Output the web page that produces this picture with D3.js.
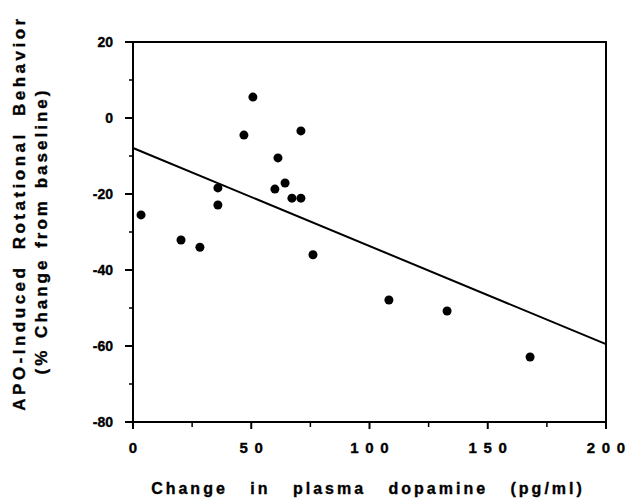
<!DOCTYPE html>
<html>
<head>
<meta charset="utf-8">
<script src="https://cdn.jsdelivr.net/npm/d3@7"></script>
<style>
  body { margin: 0; background: #fff; }
  svg { display: block; font-family: "Liberation Sans", Arial, sans-serif; font-weight: bold; }
  text { fill: #000; stroke: #000; stroke-width: 0.35px; }
</style>
</head>
<body>
<svg id="chart" width="629" height="504"></svg>
<script>
// change in plasma dopamine (pg/ml)
const dopamine = [3.4, 20.3, 28.3, 35.9, 35.9, 46.9, 50.7, 61.3, 60, 71, 64.3, 67.2, 71, 76.1, 108.2, 132.8, 167.9]
// % change in APO-induced rotational behavior
const rotation = [-25.5, -32.1, -34, -18.4, -22.9, -4.5, 5.5, -10.5, -18.7, -3.4, -17.1, -21.1, -21.1, -36, -47.9, -50.8, -62.9]
// regression line end points
const fitX = [0, 200]
const fitY = [-7.9, -59.5]

const xTicks = [0, 50, 100, 150, 200]
const yTicks = [20, 0, -20, -40, -60, -80]

const svg = d3.select("#chart")
const plotLeft = 133, plotRight = 606, plotTop = 42, plotBottom = 422

const x = d3.scaleLinear().domain([0, 200]).range([plotLeft, plotRight])
const y = d3.scaleLinear().domain([-80, 20]).range([plotBottom, plotTop])

// frame
svg.append("rect")
  .attr("x", plotLeft).attr("y", plotTop)
  .attr("width", plotRight - plotLeft).attr("height", plotBottom - plotTop)
  .attr("fill", "none").attr("stroke", "#000").attr("stroke-width", 2)

// y axis: major ticks + minor ticks
const yAxis = svg.append("g").attr("transform", `translate(${plotLeft},0)`)
yAxis.selectAll(".major")
  .data(yTicks)
  .join("line")
  .attr("class", "major")
  .attr("x1", -8).attr("x2", 0)
  .attr("y1", (d) => y(d)).attr("y2", (d) => y(d))
  .attr("stroke", "#000").attr("stroke-width", 2)
yAxis.selectAll(".minor")
  .data(d3.range(-70, 20, 20))
  .join("line")
  .attr("class", "minor")
  .attr("x1", -4).attr("x2", 0)
  .attr("y1", (d) => y(d)).attr("y2", (d) => y(d))
  .attr("stroke", "#000").attr("stroke-width", 1.5)
yAxis.selectAll("text")
  .data(yTicks)
  .join("text")
  .attr("x", -20)
  .attr("y", (d) => y(d) + 5)
  .attr("text-anchor", "end")
  .attr("font-size", 14)
  .text((d) => d)

// x axis
const xAxis = svg.append("g").attr("transform", `translate(0,${plotBottom})`)
xAxis.selectAll(".major")
  .data(xTicks)
  .join("line")
  .attr("class", "major")
  .attr("x1", (d) => x(d)).attr("x2", (d) => x(d))
  .attr("y1", 0).attr("y2", 7)
  .attr("stroke", "#000").attr("stroke-width", 2)
xAxis.selectAll(".minor")
  .data(d3.range(25, 200, 50))
  .join("line")
  .attr("class", "minor")
  .attr("x1", (d) => x(d)).attr("x2", (d) => x(d))
  .attr("y1", 0).attr("y2", 5)
  .attr("stroke", "#000").attr("stroke-width", 1.5)
// spaced-out digits, one x position per character
const digitPitch = 15
xAxis.selectAll("text")
  .data(xTicks)
  .join("text")
  .attr("x", (d) => {
    const n = String(d).length
    return d3.range(n).map((i) => x(d) - ((n - 1) * digitPitch) / 2 + i * digitPitch).join(" ")
  })
  .attr("y", 31)
  .attr("text-anchor", "middle")
  .attr("font-size", 15)
  .text((d) => d)

// axis titles
svg.append("text")
  .attr("x", 368).attr("y", 494)
  .attr("text-anchor", "middle")
  .attr("font-size", 16)
  .attr("letter-spacing", 3)
  .attr("word-spacing", 15)
  .text("Change in plasma dopamine (pg/ml)")

svg.append("text")
  .attr("transform", "translate(25,213) rotate(-90)")
  .attr("text-anchor", "middle")
  .attr("font-size", 17)
  .attr("letter-spacing", 3.5)
  .attr("word-spacing", 7)
  .text("APO-Induced Rotational Behavior")

svg.append("text")
  .attr("transform", "translate(47,231) rotate(-90)")
  .attr("text-anchor", "middle")
  .attr("font-size", 17)
  .attr("letter-spacing", 3)
  .attr("word-spacing", 2)
  .text("(% Change from baseline)")

// regression line
svg.append("line")
  .attr("x1", x(fitX[0])).attr("y1", y(fitY[0]))
  .attr("x2", x(fitX[1])).attr("y2", y(fitY[1]))
  .attr("stroke", "#000").attr("stroke-width", 2)

// points
svg.selectAll(".dot")
  .data(dopamine.map((d, i) => ({ x: d, y: rotation[i] })))
  .join("circle")
  .attr("class", "dot")
  .attr("cx", (d) => x(d.x))
  .attr("cy", (d) => y(d.y))
  .attr("r", 4.5)
  .attr("fill", "#000")
</script>
</body>
</html>
